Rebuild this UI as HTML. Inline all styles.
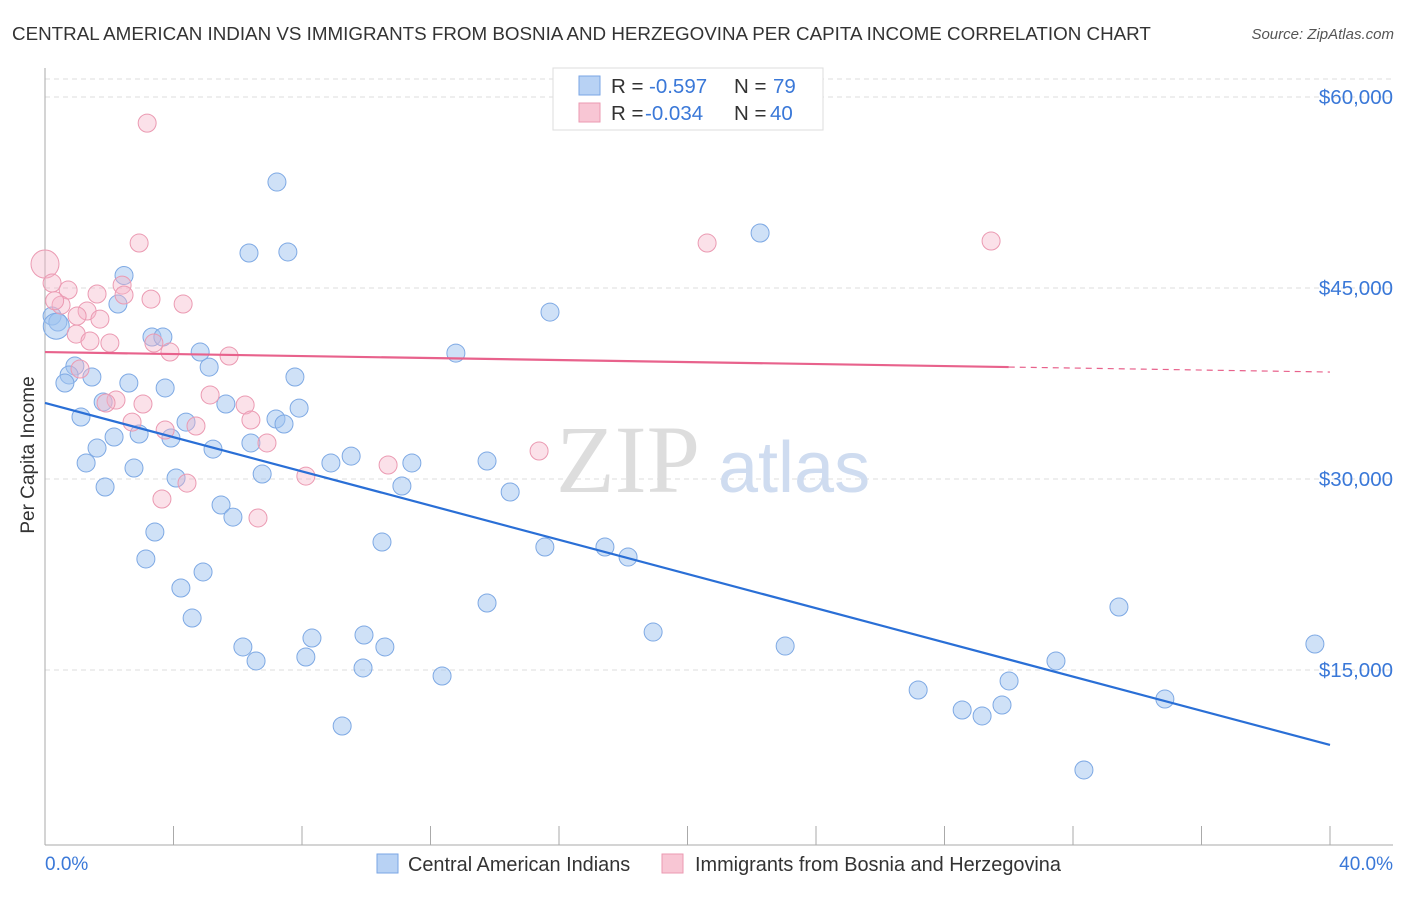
<!DOCTYPE html>
<html><head><meta charset="utf-8"><style>
body{margin:0;background:#fff;font-family:"Liberation Sans",sans-serif}
svg text{font-family:"Liberation Sans",sans-serif}
</style></head><body>
<svg width="1406" height="892" viewBox="0 0 1406 892">
<text x="12" y="40" font-size="18.8" fill="#333">CENTRAL AMERICAN INDIAN VS IMMIGRANTS FROM BOSNIA AND HERZEGOVINA PER CAPITA INCOME CORRELATION CHART</text>
<text x="1394" y="39" font-size="15" fill="#555" text-anchor="end" font-style="italic">Source: ZipAtlas.com</text>
<g id="grid"></g>
<text x="700" y="492" font-size="96" fill="#ddd" text-anchor="end" style="font-family:'Liberation Serif',serif">ZIP</text>
<text x="718" y="492" font-size="72" fill="#cfdcf0">atlas</text>
<g id="marks"></g>
<g id="lines"></g>
<text x="34" y="455" font-size="19" fill="#333" text-anchor="middle" transform="rotate(-90 34 455)">Per Capita Income</text>
<text x="45" y="870" font-size="19" fill="#3a78d8">0.0%</text>
<text x="1393" y="870" font-size="19" fill="#3a78d8" text-anchor="end">40.0%</text>
<g>
<rect x="553" y="68" width="270" height="62" fill="#fff" stroke="#ddd"/>
<rect x="579" y="76" width="21" height="19" fill="#b8d2f4" stroke="#7aa6e4"/>
<rect x="579" y="103" width="21" height="19" fill="#f8c6d4" stroke="#eb9ab2"/>
<text x="611" y="93" font-size="20.5" fill="#333">R =</text>
<text x="649" y="93" font-size="20.5" fill="#3a78d8">-0.597</text>
<text x="734" y="93" font-size="20.5" fill="#333">N =</text>
<text x="773" y="93" font-size="20.5" fill="#3a78d8">79</text>
<text x="611" y="120" font-size="20.5" fill="#333">R =</text>
<text x="645" y="120" font-size="20.5" fill="#3a78d8">-0.034</text>
<text x="734" y="120" font-size="20.5" fill="#333">N =</text>
<text x="770" y="120" font-size="20.5" fill="#3a78d8">40</text>
</g>
<g>
<rect x="377" y="854" width="21" height="19" fill="#b8d2f4" stroke="#7aa6e4"/>
<text x="408" y="871" font-size="19.9" fill="#333">Central American Indians</text>
<rect x="662" y="854" width="21" height="19" fill="#f8c6d4" stroke="#eb9ab2"/>
<text x="695" y="871" font-size="19.9" fill="#333">Immigrants from Bosnia and Herzegovina</text>
</g>
</svg>
<script>
const yTicks=[15000,30000,45000,60000];
const yTickLabels=["$15,000","$30,000","$45,000","$60,000"];
const blueX=[7.22,6.35,7.56,22.26,2.46,2.27,15.72,0.22,0.40,3.33,3.67,4.83,12.79,5.11,0.93,0.75,1.46,7.78,0.62,2.61,3.74,1.81,5.63,7.91,1.12,4.39,7.19,7.44,2.93,2.15,3.92,6.41,1.62,5.23,1.28,2.77,9.53,8.90,11.42,13.76,4.08,6.76,1.87,11.11,14.48,5.48,5.85,3.42,10.49,15.56,17.43,18.15,3.14,4.92,4.23,13.76,33.43,4.58,18.93,8.31,9.93,6.16,10.58,23.04,39.53,6.57,8.12,31.47,9.90,12.36,30.01,27.18,34.86,28.55,29.17,29.79,9.25,32.34,0.35];
const blueY=[53320,47750,47830,49320,45980,43740,43110,42800,42330,41150,41150,39970,39890,38790,38870,38170,38010,38010,37540,37540,37150,36050,35890,35570,34870,34470,34710,34320,33530,33300,33220,32830,32430,32350,31260,30860,31800,31260,31260,31410,30080,30390,29370,29450,28980,27960,27010,25840,25050,24660,24660,23870,23720,22700,21440,20260,19950,19080,17980,17510,17750,16810,16810,16880,17040,15710,16020,15710,15160,14530,14140,13430,12720,11860,11390,12250,10600,7150,42000];
const pinkX=[3.18,2.93,20.61,29.45,0,0.22,0.72,2.40,1.62,2.46,3.30,4.30,0.50,1.31,1.71,0.97,1.40,2.02,3.39,3.89,5.73,1.09,5.14,2.21,1.90,3.05,6.23,2.71,6.41,4.70,3.74,6.91,15.38,10.68,8.12,4.42,3.64,6.63,0.3,1.0];
const pinkY=[57950,48530,48530,48690,46880,45390,44840,45230,44530,44450,44130,43740,43660,43190,42560,41380,40840,40680,40680,39970,39660,38640,36600,36200,35970,35890,35810,34470,34630,34160,33850,32830,32200,31100,30230,29680,28430,26940,44000,42800];
const blueTrend=[35970,9110];
const pinkTrend=[39970,38400];
const NS='http://www.w3.org/2000/svg';
const X=v=>45+v/40*1285;
const Y=v=>861-v/15000*191;
function el(tag,attrs,parent){const e=document.createElementNS(NS,tag);for(const k in attrs)e.setAttribute(k,attrs[k]);parent.appendChild(e);return e;}
const grid=document.getElementById('grid');
el('line',{x1:45,x2:1393,y1:79,y2:79,stroke:'#ddd','stroke-dasharray':'5,4'},grid);
yTicks.forEach((t,i)=>{
 const g=el('line',{x1:45,x2:1393,y1:Y(t),y2:Y(t),stroke:'#ddd','stroke-dasharray':'5,4'},grid);
 
 
 const tx=el('text',{x:1393,y:Y(t)+7,'font-size':20.5,fill:'#3a78d8','text-anchor':'end'},grid);
 tx.textContent=yTickLabels[i];
 
 
});
const ax=el('line',{x1:45,x2:45,y1:68,y2:845,stroke:'#aaa'},grid);


const bx=el('line',{x1:45,x2:1393,y1:845,y2:845,stroke:'#aaa'},grid);


for(let k=0;k<=10;k++){const t=el('line',{x1:X(k*4),x2:X(k*4),y1:826,y2:845,stroke:'#aaa'},grid);
 
 }
const marks=document.getElementById('marks');
blueX.forEach((x,i)=>{const c=el('circle',{cx:X(x),cy:Y(blueY[i]),r:i==blueX.length-1?13:9,fill:'rgba(160,196,240,0.5)',stroke:'#7ea9e4','stroke-width':1},marks);
 
 });
pinkX.forEach((x,i)=>{const c=el('circle',{cx:X(x),cy:Y(pinkY[i]),r:i==4?14:9,fill:'rgba(245,180,200,0.4)',stroke:'#eb9ab2','stroke-width':1},marks);
 
 });
const lines=document.getElementById('lines');
const bl=el('line',{x1:X(0),y1:Y(blueTrend[0]),x2:X(40),y2:Y(blueTrend[1]),stroke:'#2a6fd6','stroke-width':2.2},lines);


const pAt=x=>pinkTrend[0]+(pinkTrend[1]-pinkTrend[0])*x/40;
const pl=el('line',{x1:X(0),y1:Y(pAt(0)),x2:X(30),y2:Y(pAt(30)),stroke:'#e8628c','stroke-width':2.2},lines);


const pd=el('line',{x1:X(30),y1:Y(pAt(30)),x2:X(40),y2:Y(pAt(40)),stroke:'#e8628c','stroke-width':1.2,'stroke-dasharray':'6,5'},lines);


</script>
</body></html>
